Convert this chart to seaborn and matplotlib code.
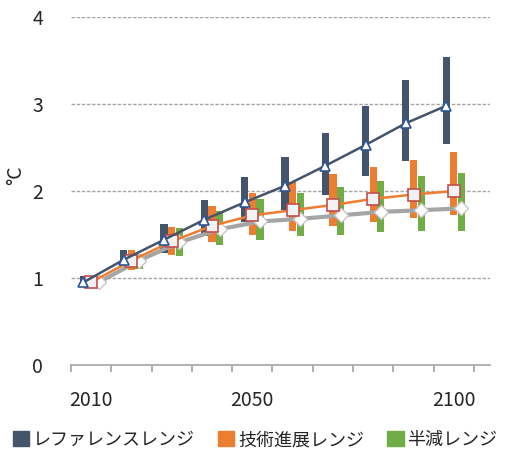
import numpy as np
import pandas as pd
import matplotlib
matplotlib.use("Agg")
import matplotlib.pyplot as plt
import seaborn as sns
from matplotlib.patches import Patch

years = [2010, 2020, 2030, 2040, 2050, 2060, 2070, 2080, 2090, 2100]
year_labels = {0: "2010", 4: "2050", 9: "2100"}

# central estimates (lines)
ref_mid = [0.95, 1.21, 1.44, 1.67, 1.87, 2.06, 2.29, 2.53, 2.78, 2.98]
tech_mid = [0.95, 1.20, 1.42, 1.60, 1.72, 1.78, 1.84, 1.91, 1.96, 2.00]
half_mid = [0.95, 1.20, 1.41, 1.56, 1.65, 1.68, 1.72, 1.76, 1.78, 1.80]

# ranges (bars)
ref_lo = [0.90, 1.17, 1.29, 1.48, 1.64, 1.78, 1.96, 2.17, 2.35, 2.54]
ref_hi = [1.02, 1.32, 1.62, 1.90, 2.16, 2.39, 2.67, 2.98, 3.28, 3.54]
tech_lo = [0.90, 1.09, 1.26, 1.41, 1.50, 1.54, 1.60, 1.64, 1.69, 1.73]
tech_hi = [1.00, 1.32, 1.59, 1.83, 1.98, 2.10, 2.20, 2.28, 2.36, 2.45]
half_lo = [0.89, 1.10, 1.25, 1.38, 1.44, 1.48, 1.50, 1.53, 1.54, 1.54]
half_hi = [0.98, 1.28, 1.58, 1.77, 1.91, 1.98, 2.05, 2.12, 2.17, 2.21]

names = ["レファレンスレンジ", "技術進展レンジ", "半減レンジ"]
c_ref, c_tech, c_half = "#44546A", "#ED7D31", "#70AD47"

sns.set_theme(style="white")
plt.rcParams["font.family"] = ["Noto Sans CJK JP", "DejaVu Sans"]

fig = plt.figure(figsize=(5.1, 4.5), dpi=100)
ax = fig.add_axes([0.139, 0.189, 0.822, 0.773])

x = np.arange(len(years))
off, w = 0.19, 0.18
for lo, hi, col, dx in [(ref_lo, ref_hi, c_ref, -off),
                        (tech_lo, tech_hi, c_tech, 0),
                        (half_lo, half_hi, c_half, off)]:
    ax.bar(x + dx, np.array(hi) - np.array(lo), bottom=lo, width=w,
           color=col, linewidth=0, edgecolor="none", zorder=2)

df = pd.DataFrame({"x": np.concatenate([x - off, x, x + off]),
                   "y": ref_mid + tech_mid + half_mid,
                   "s": ["ref"] * 10 + ["tech"] * 10 + ["half"] * 10})

sns.lineplot(data=df[df.s == "half"], x="x", y="y", ax=ax, color="#A5A5A5",
             lw=3, marker="D", markersize=7, markerfacecolor="white",
             markeredgecolor="#C8C8C8", markeredgewidth=1, zorder=3)
sns.lineplot(data=df[df.s == "tech"], x="x", y="y", ax=ax, color=c_tech,
             lw=1.8, marker="s", markersize=8, markerfacecolor="#F2F2F2",
             markeredgecolor="#C0504D", markeredgewidth=1.2, zorder=4)
sns.lineplot(data=df[df.s == "ref"], x="x", y="y", ax=ax, color=c_ref,
             lw=1.8, marker="^", markersize=7, markerfacecolor="white",
             markeredgecolor="#2F5597", markeredgewidth=1.2, zorder=5)

ax.set_ylim(0, 4)
ax.set_xlim(-0.5, 9.9)
ax.set_yticks([0, 1, 2, 3, 4])
ax.set_yticklabels(["0", "1", "2", "3", "4"], fontsize=14)
ax.tick_params(axis="y", length=0, pad=20)
for yv in [1, 2, 3, 4]:
    ax.axhline(yv, color="#A6A6A6", lw=1, ls=(0, (2.5, 1.2)), zorder=1)

ax.set_xticks(np.arange(-0.5, 10, 1.0))
ax.set_xticklabels([])
ax.set_xticks(list(year_labels.keys()), minor=True)
ax.set_xticklabels(list(year_labels.values()), minor=True, fontsize=14)
ax.tick_params(axis="x", which="major", length=5, color="#A6A6A6",
               direction="out", bottom=True)
ax.tick_params(axis="x", which="minor", length=0, pad=18)

for sp in ["top", "right", "left"]:
    ax.spines[sp].set_visible(False)
ax.spines["bottom"].set_color("#A6A6A6")
ax.spines["bottom"].set_linewidth(1.2)

ax.set_xlabel("")
ax.set_ylabel("")
fig.text(0.03, 0.61, "°C", rotation=90, fontsize=14, ha="center", va="center")

handles = [Patch(color=c, label=n) for c, n in zip([c_ref, c_tech, c_half], names)]
fig.legend(handles=handles, loc="center", bbox_to_anchor=(0.5, 0.022),
           ncol=3, frameon=False, fontsize=13, handlelength=0.9,
           handleheight=0.9, handletextpad=0.2, columnspacing=1.3)

fig.savefig("out.png", dpi=100)
